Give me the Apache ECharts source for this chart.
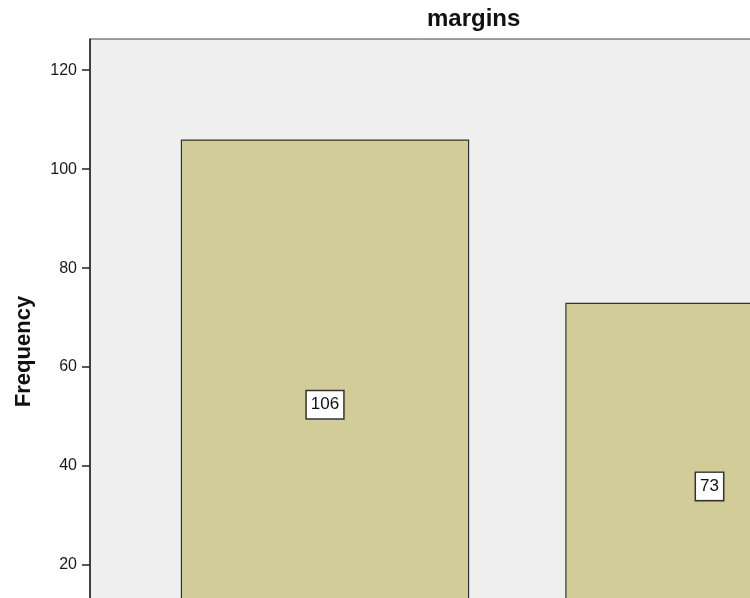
<!DOCTYPE html>
<html>
<head>
<meta charset="utf-8">
<script src="https://cdn.jsdelivr.net/npm/echarts@6/dist/echarts.min.js"></script>
<style>html,body{margin:0;padding:0;background:#fff;}#chart{width:750px;height:598px;}</style>
</head>
<body>
<div id="chart"></div>
<script>
const titleText = 'margins';
const yAxisName = 'Frequency';
const categories = ['A', 'B'];
const frequencies = [106, 73];
const yTickInterval = 20;
const yMax = 126.3;

const FONT = '"Liberation Sans", Arial, sans-serif';
const chart = echarts.init(document.getElementById('chart'));
chart.setOption({
  animation: false,
  backgroundColor: '#ffffff',
  title: {
    text: titleText, left: 427, top: 7, padding: 0,
    textStyle: { fontFamily: FONT, fontSize: 24, fontWeight: 'bold', color: '#111' }
  },
  grid: [
    { left: 90, top: 39, width: 1000, height: 625, show: true, backgroundColor: '#efefef', borderColor: '#444', borderWidth: 1, z: 0, outerBoundsMode: 'none', containLabel: false },
    { left: 132.75, top: 39, width: 769, height: 625, outerBoundsMode: 'none', containLabel: false }
  ],
  xAxis: [
    { gridIndex: 0, type: 'value', show: false },
    { gridIndex: 1, type: 'category', data: categories, show: false, boundaryGap: true }
  ],
  yAxis: [
    { gridIndex: 0, type: 'value', show: false },
    {
      gridIndex: 1, type: 'value', min: 0, max: yMax, interval: yTickInterval, offset: 42.75,
      name: yAxisName, nameLocation: 'middle', nameGap: 55, nameRotate: 90,
      nameTextStyle: { fontFamily: FONT, fontSize: 22, fontWeight: 'bold', color: '#111' },
      axisLine: { show: true, lineStyle: { color: '#222', width: 1.5 } },
      axisTick: { show: true, length: 8, lineStyle: { color: '#222', width: 1.5 } },
      axisLabel: { fontFamily: FONT, fontSize: 16, color: '#1a1a1a', margin: 13, showMaxLabel: false },
      splitLine: { show: false }
    }
  ],
  series: [{
    type: 'bar', xAxisIndex: 1, yAxisIndex: 1,
    data: frequencies, barCategoryGap: '25%',
    itemStyle: { color: '#d2cd98', borderColor: '#333', borderWidth: 1.2 },
    label: {
      show: true, position: 'inside', offset: [0, 3], fontFamily: FONT, fontSize: 17, color: '#111',
      backgroundColor: '#fff', borderColor: '#333', borderWidth: 1.5, padding: [6, 4, 4, 4]
    }
  }]
});
</script>
</body>
</html>
